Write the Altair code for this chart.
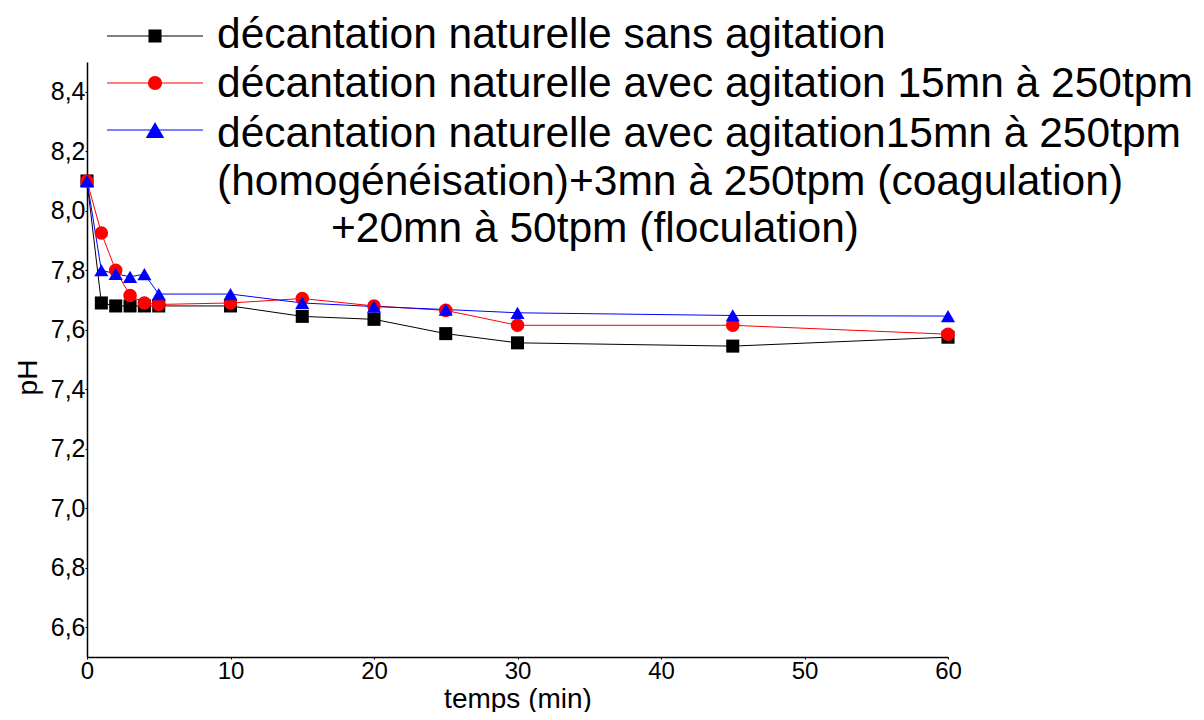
import altair as alt
import pandas as pd

# ---- data ----
time = [0, 1, 2, 3, 4, 5, 10, 15, 20, 25, 30, 45, 60]
ph_sans = [8.10, 7.69, 7.68, 7.68, 7.68, 7.68, 7.68, 7.645, 7.635, 7.587, 7.556, 7.545, 7.575]
ph_avec = [8.10, 7.925, 7.80, 7.715, 7.69, 7.685, 7.69, 7.705, 7.68, 7.665, 7.615, 7.615, 7.585]
ph_coag = [8.10, 7.80, 7.788, 7.778, 7.787, 7.72, 7.72, 7.69, 7.678, 7.668, 7.657, 7.648, 7.646]

series_keys = ["sans", "avec", "coag"]
series_colors = ["#000000", "#ff0000", "#0000ff"]
series_shapes = ["square", "circle", "triangle-up"]
series_sizes = [170, 200, 340]

legend_lines = [
    "décantation naturelle sans agitation",
    "décantation naturelle avec agitation 15mn à 250tpm",
    "décantation naturelle avec agitation15mn à 250tpm",
    "(homogénéisation)+3mn à 250tpm (coagulation)",
    "+20mn à 50tpm (floculation)",
]

y_ticks = [6.6, 6.8, 7.0, 7.2, 7.4, 7.6, 7.8, 8.0, 8.2, 8.4]
x_ticks = [0, 10, 20, 30, 40, 50, 60]

rows = []
for key, vals in zip(series_keys, [ph_sans, ph_avec, ph_coag]):
    for t, v in zip(time, vals):
        rows.append({"t": t, "ph": v, "serie": key})
df = pd.DataFrame(rows)

FONT = "Liberation Sans"

x_enc = alt.X("t:Q", scale=alt.Scale(domain=[0, 60], nice=False, zero=False),
              axis=alt.Axis(values=x_ticks, title="temps (min)", labelFlush=False,
                            labelOverlap=False, tickSize=2, labelPadding=0,
                            titlePadding=2, labelFontSize=24, titleFontSize=28))
y_enc = alt.Y("ph:Q", scale=alt.Scale(domain=[6.5, 8.5], nice=False, zero=False),
              axis=alt.Axis(values=y_ticks, title="pH", tickSize=2, labelPadding=0,
                            labelExpr="replace(format(datum.value, '.1f'), '.', ',')",
                            labelFontSize=25, titleFontSize=28,
                            titleX=-59, titleY=315, titleAlign="center",
                            titleBaseline="middle"))

color_scale = alt.Scale(domain=series_keys, range=series_colors)
shape_scale = alt.Scale(domain=series_keys, range=series_shapes)
size_scale = alt.Scale(domain=series_keys, range=series_sizes)

lines = alt.Chart(df).mark_line(strokeWidth=1).encode(
    x=x_enc, y=y_enc,
    color=alt.Color("serie:N", scale=color_scale, legend=None),
    detail="serie:N",
)
points = alt.Chart(df).mark_point(filled=True, opacity=1).encode(
    x=x_enc, y=y_enc,
    color=alt.Color("serie:N", scale=color_scale, legend=None),
    shape=alt.Shape("serie:N", scale=shape_scale, legend=None),
    size=alt.Size("serie:N", scale=size_scale, legend=None),
)

layers = [lines, points]

# ---- manual legend (positions in pixels relative to plot origin) ----
leg_marker_y = [-26, 21, 68]
leg_text_y = [-14, 35, 85, 133, 180]
leg_text_x = [130, 130, 130, 130, 244]
one = alt.Data(values=[{"a": 1}])
for i in range(3):
    layers.append(alt.Chart(one).mark_rule(color=series_colors[i], strokeWidth=1).encode(
        x=alt.value(20), x2=alt.value(116), y=alt.value(leg_marker_y[i])))
    layers.append(alt.Chart(one).mark_point(filled=True, opacity=1, shape=series_shapes[i],
                                            size=series_sizes[i], color=series_colors[i]).encode(
        x=alt.value(68), y=alt.value(leg_marker_y[i])))
for txt, tx, ty in zip(legend_lines, leg_text_x, leg_text_y):
    layers.append(alt.Chart(one).mark_text(text=txt, align="left", baseline="alphabetic",
                                           fontSize=42.5, font=FONT, color="#000000").encode(
        x=alt.value(tx), y=alt.value(ty)))

chart = alt.layer(*layers).properties(
    width=861, height=595,
    autosize=alt.AutoSizeParams(type="none"),
    padding={"left": 79, "top": 54, "right": 248, "bottom": 55},
).configure_view(stroke=None).configure_axis(
    grid=False, domainColor="#000000", domainWidth=1.5, tickColor="#000000",
    labelColor="#000000", titleColor="#000000", labelFont=FONT, titleFont=FONT,
    titleFontWeight="normal",
)

chart.save("out.html", embed_options={"renderer": "svg", "actions": False})
